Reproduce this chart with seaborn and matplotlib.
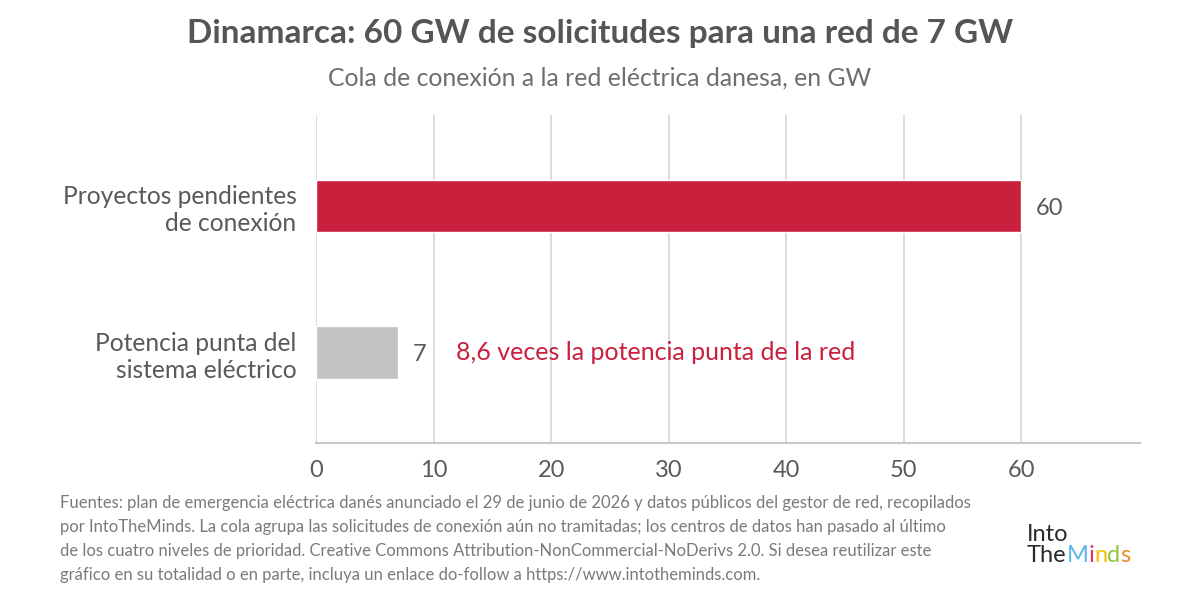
import matplotlib
matplotlib.use("Agg")
import matplotlib.pyplot as plt
import seaborn as sns
import pandas as pd

categories = ["Proyectos pendientes\nde conexión", "Potencia punta del\nsistema eléctrico"]
values = [60, 7]
bar_colors = ["#C8203D", "#C4C2C5"]
x_ticks = [0, 10, 20, 30, 40, 50, 60]

title = "Dinamarca: 60 GW de solicitudes para una red de 7 GW"
subtitle = "Cola de conexión a la red eléctrica danesa, en GW"
annotation = "8,6 veces la potencia punta de la red"
footnote = ("Fuentes: plan de emergencia eléctrica danés anunciado el 29 de junio de 2026 y datos públicos del gestor de red, recopilados\n"
            "por IntoTheMinds. La cola agrupa las solicitudes de conexión aún no tramitadas; los centros de datos han pasado al último\n"
            "de los cuatro niveles de prioridad. Creative Commons Attribution-NonCommercial-NoDerivs 2.0. Si desea reutilizar este\n"
            "gráfico en su totalidad o en parte, incluya un enlace do-follow a https://www.intotheminds.com.")
logo_top = "Into"
logo_letters = ["The", "M", "i", "n", "d", "s"]
logo_cols = ["#2B2B2B", "#5BB8E8", "#E0307A", "#F2C200", "#8DC63F", "#F08A24"]

sns.set_theme(style="white")
plt.rcParams['font.family'] = ['Lato', 'DejaVu Sans']

df = pd.DataFrame({"cat": categories, "val": values})

fig = plt.figure(figsize=(12, 6), dpi=100)
ax = fig.add_axes([316/1200, 1-443/600, (1140-316)/1200, (443-115)/600])

sns.barplot(data=df, y="cat", x="val", hue="cat", palette=bar_colors, legend=False,
            orient="h", width=0.36, ax=ax, zorder=3, saturation=1)

ax.set_xlim(0, 70.1)
ax.set_ylim(1.615, -0.62)
ax.set_xticks(x_ticks)
ax.set_xticklabels([str(t) for t in x_ticks], fontsize=17, color="#595959")
ax.tick_params(axis="x", length=0, pad=12)
ax.tick_params(axis="y", length=0, pad=14)
for lbl in ax.get_yticklabels():
    lbl.set_fontsize(17.7)
    lbl.set_color("#595959")
    lbl.set_horizontalalignment("right")
    lbl.set_multialignment("right")
ax.set_xlabel("")
ax.set_ylabel("")
ax.grid(axis="x", color="#D9D9D9", linewidth=1.3, zorder=0)
ax.grid(axis="y", visible=False)
for s in ["top", "right", "left"]:
    ax.spines[s].set_visible(False)
ax.spines["bottom"].set_color("#C8C8C8")
ax.spines["bottom"].set_linewidth(1.5)

for i, v in enumerate(values):
    ax.text(v + 1.2, i + 0.015, str(v), va="center", ha="left", fontsize=17, color="#595959")

ax.text(11.9, 1, annotation, va="center", ha="left", fontsize=18, color="#C8203D")

fig.text(0.5, 1-33/600, title, ha="center", va="center", fontsize=24, fontweight="bold", color="#555555")
fig.text(0.5, 1-78/600, subtitle, ha="center", va="center", fontsize=17.8, color="#6E6E6E")
fig.text(60/1200, 1-495/600, footnote, ha="left", va="top", fontsize=12, color="#7A7A7A", linespacing=1.62)

# logo-like text
fig.text(1027/1200, 1-545/600, logo_top, ha="left", va="bottom", fontsize=17, color="#2B2B2B")
renderer = fig.canvas.get_renderer()
xpos = 1027
for ch, c in zip(logo_letters, logo_cols):
    t = fig.text(xpos/1200, 1-545/600, ch, ha="left", va="top", fontsize=17, color=c)
    bb = t.get_window_extent(renderer=renderer)
    xpos += bb.width

fig.savefig("out.png", dpi=100)
